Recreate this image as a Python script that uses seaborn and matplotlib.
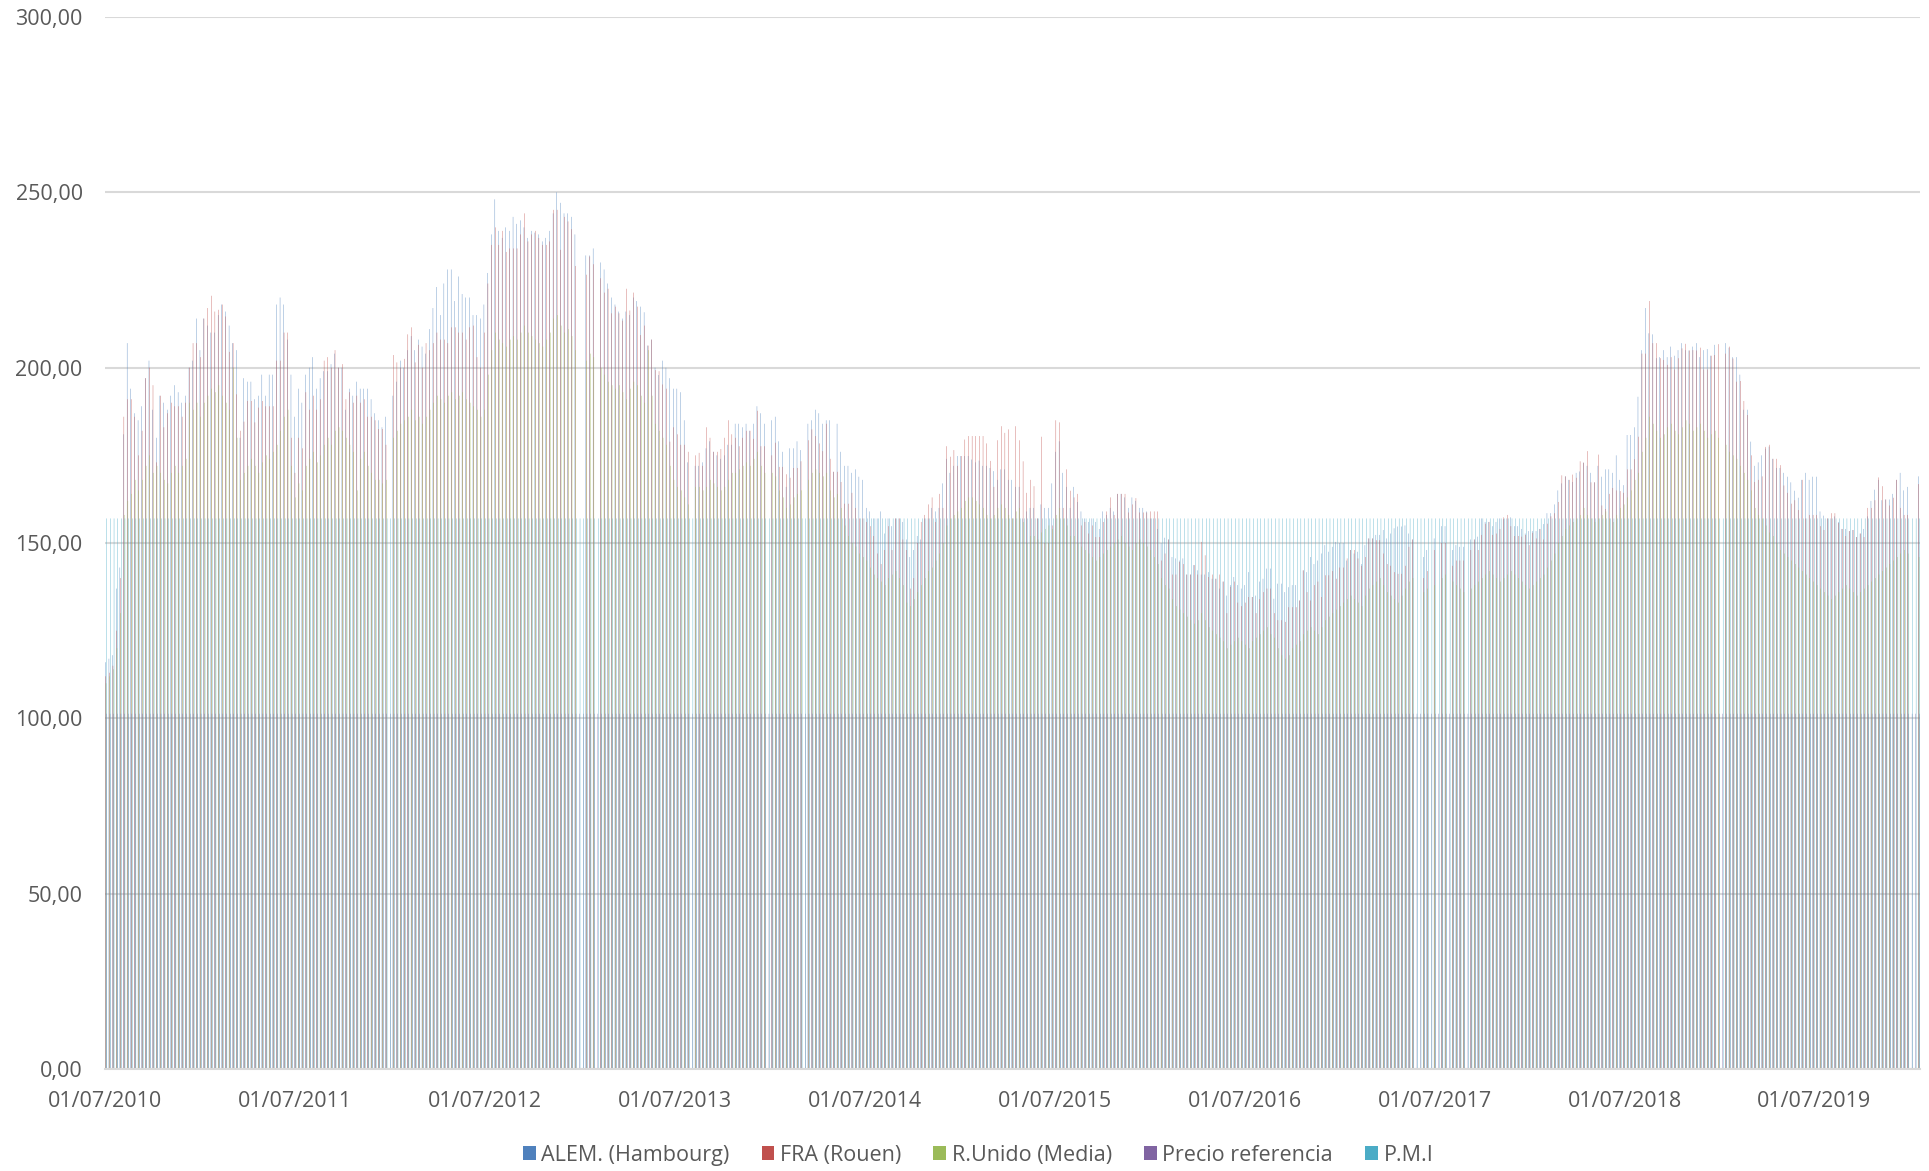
import numpy as np
import pandas as pd
import seaborn as sns
import matplotlib
matplotlib.use("Agg")
import matplotlib.pyplot as plt
from matplotlib.ticker import FuncFormatter

nan = float("nan")

# Weekly prices (EUR/t), one value per week starting 01/07/2010.
alem = [
    116, 117, 118, 137, 143, 181, 207, 194, 187, 185,
    189, 197, 202, 188, 180, 192, 190, 188, 192, 195,
    193, 190, 192, 200, 202, 214, 205, 214, 212, 210,
    210, 215, 218, 216, 212, 207, 205, 180, 197, 196,
    196, 191, 192, 198, 192, 198, 198, 218, 220, 218,
    208, 198, 186, 194, 190, 198, 200, 203, 194, 197,
    199, 199, 201, 204, 200, 200, 188, 194, 192, 196,
    194, 194, 194, 191, 187, 185, 183, 186, nan, 192,
    196, 202, 200, 205, 209, 205, 208, 206, 204, 211,
    217, 223, 215, 224, 228, 228, 219, 226, 221, 220,
    220, 215, 215, 214, 218, 227, 238, 248, 239, 237,
    240, 239, 243, 241, 242, 240, 237, 239, 238.5, 238,
    236, 237, 239, 244, 250, 247, 244, 244, 243, 238,
    nan, nan, 232, 232, 234, nan, 230, 228, 224, 220,
    218, 216, 214, 216, 215, 220, 219, 217.4, 215.8, 206.3,
    208, 200, 197.9, 202, 200, 197, 194, 194, 193, 185,
    173, nan, 172, 172, 173, 177, 179, 176, 175, 174,
    175, 178, 178, 184, 184, 183, 184, 182, 184, 189,
    187, 184, nan, 185, 186, 179, 176, 166, 177, 177,
    179, 176.5, nan, 184, 185, 188, 187, 184, 185, 185,
    170.3, 184, 176, 172, 172, 170, 171, 168.9, 168, 160,
    159, 157, 157, 159, 152.7, 157, 154.8, 157, 157, 156,
    151, 146, 148, 152, 151, 157, 157, 160, 159, 160,
    167, 174, 170, 172, 174.8, 174.8, 174.8, 174.8, 173.8, 173,
    173.5, 172, 172, 171.4, 170.5, 168, 171, 171, 168, 168,
    166, 166, 157, 159, 160, 160, 157, 161, 160, 160,
    167, 176, 179, 170, 166, 160, 166, 161.7, 159, 157,
    156, 157, 156, 154, 159, 158, 160, 159, 164, 164,
    163, 160, 163, 162, 160, 160, 159, 157, 157, 154,
    150, 151.5, 151, 146, 145.6, 145, 145.6, 141, 141, 143.7,
    142.2, 141, 141, 141.7, 139.8, 139.8, 137, 139, 135, 138,
    140.3, 138, 137, 138, 141.7, 134.6, 135, 139, 139.8, 142.7,
    142.7, 134.1, 138.4, 138.4, 136, 137.4, 138, 138, 133.6, 142.2,
    141.7, 146, 144, 145, 147, 149.4, 147.5, 148.9, 150.3, 150,
    150, 145, 148, 147, 147.5, 144, 149.4, 151.3, 151.3, 152.3,
    152.3, 153.7, 151.3, 152.7, 154.2, 154.7, 154.7, 155, 152.7, 151,
    nan, nan, 146, 148, nan, 151.3, nan, 154.8, 154.8, nan,
    148, 149.4, 148.9, 148.9, nan, 151, 151, 151.8, 157, 156,
    156, 154.8, 156, 157, 156.8, 157, 157.3, 154.8, 154.8, 154,
    152.7, 153.4, 153.4, 153.4, 154, 155.4, 158.5, 158.5, 161, 165,
    167, 169, 168, 167.4, 170, 170.4, 172.9, 172, 170, 167.3,
    172, 168.9, 171, 171, 170, 175, 168, 166.5, 180.8, 180.8,
    183, 191.7, 205, 217, 209.8, 209.5, 202.7, 203, 205, 203,
    206, 203.4, 205, 207, 205, 204.9, 206, 207, 203, 205,
    205.3, 203.4, 206.5, nan, nan, 207, 205.7, 203, 203, 198,
    188, 188, 178.9, 172, 173, 175, 176.9, 177.5, 174, 171.4,
    171.4, 170, 168.9, 167.3, 164.9, 162.9, 168, 170, 168, 168.9,
    168.9, 159, 157.8, 157, 157, 157.6, 156, 154, 154, 153.4,
    153.7, 151.7, 152.7, 154, 157.6, 162, 165.2, 168, 162.2, 162.4,
    162.4, 164, 168, 170, 165, 166, nan, nan, 169,
]

fra = [
    112, 113, 115, 125, 140, 186, 191, 191, 186, 175,
    182, 197, 200, 195, 173, 192, 183, 187, 190, 189,
    189, 186, 190, 200, 207, 207, 203, 214, 217, 220.5,
    216, 216.5, 218, 214.6, 204.5, 207, 192.4, 182, 184.6, 190.5,
    190.5, 184.4, 188.6, 190.5, 189, 189, 189, 202, 202, 210,
    210, 180, 170, 180, 177, 193, 188, 192, 188, 191,
    202, 203, 200, 205, 200, 201, 191, 193, 190, 192,
    190, 191, 186, 186, 185, 182.5, 182.5, 178, nan, 203.6,
    201.5, 200, 202.5, 209.5, 211.5, 201.5, 206.5, 200, 207, 205,
    207, 210, 208, 208, 207, 211.5, 211.5, 210, 210, 208,
    211.5, 212, 203, 200, 210, 224, 235, 240, 235, 239,
    233, 234, 234, 234, 238, 244, 236, 238, 239, 237,
    235, 235, 236, 245, 245, 233.6, 243, 241.7, 239.5, 229,
    nan, nan, 226.5, 231.7, 229.5, nan, 225.5, 221.4, 222.5, 215.5,
    217.4, 215.5, 213.4, 222.5, 216.3, 221.4, 217.4, 209.3, 212, 206.3,
    208, 199.3, 199, 195.2, 194, 178.9, 183, 181, 178, 178,
    176, nan, 175, 175.7, 172, 183, 180, 176, 176, 176.8,
    180, 185, 181, 180, 177.6, 180, 182, 182, 179.7, 187.7,
    177.6, 177.6, nan, 175, 178.6, 171.7, 171.7, 169.6, 168.6, 171.4,
    171.4, 173.3, nan, 179.3, 182.4, 180.5, 178.4, 176.2, 184, 174,
    170.3, 170.3, 167.4, 161.2, 161.2, 164.3, 160, 157, 157, 156,
    154.8, 152, 147, 144, 148, 154.8, 148, 157, 157, 151,
    148, 137, 140, 150, 156, 158, 161, 163, 156, 164,
    160, 177.6, 174.6, 176.5, 172, 174.8, 179.5, 180.5, 180.5, 180.5,
    180.5, 180.5, 178.4, 173.4, 166, 179.3, 183.3, 181.4, 182.4, 157,
    183.3, 179.3, 173.3, 164.3, 168, 166.2, 157, 180.3, 150, 150,
    155, 185, 184.4, 160, 171, 164.9, 163, 164, 155, 156,
    152.7, 155, 151.7, 151.7, 156, 159, 163, 158, 164, 164,
    164, 158.7, 161, 162.8, 158.7, 158.7, 158.7, 159, 159, 159,
    145, 147, 151, 141, 141, 144.6, 144, 141, 141, 143.7,
    141, 150.3, 146.5, 140.3, 141, 139.8, 141, 139, 130, 137.5,
    139, 133, 132, 133, 134.6, 134.6, 130, 134, 136, 137,
    137, 130, 128, 128, 127.5, 131.7, 131.7, 131.7, 133.6, 142.2,
    136, 133.6, 138, 139, 134.6, 140.8, 140.8, 142, 139.8, 143,
    143, 145.6, 148, 148, 145.6, 143.5, 146, 151.3, 151.3, 150.8,
    150.8, 147, 144, 143.5, 141.7, 141.2, 141.2, 143.5, 148.9, 151,
    nan, nan, 140, 142, nan, 148, nan, 150, 150, nan,
    143.5, 145, 145, 145, nan, 148, 151, 148, 152.3, 155.5,
    156, 152.3, 152.7, 154, 157.3, 158, 154.8, 152, 152, 151.8,
    152.3, 149.4, 152.9, 151.3, 154, 151, 155.5, 157.6, 158.5, 161.7,
    169.3, 169, 168, 169.5, 168.6, 173.3, 172.9, 176.2, 167.3, 167.3,
    175.2, 160.7, 159.7, 164, 165.7, 165, 164.8, 164.3, 171, 171,
    173.9, 180.3, 204, 204, 219, 207, 207, 202.7, 202.2, 200.8,
    203, 199.5, 202.7, 205.5, 206.8, 204.9, 205, 204.9, 205.7, 199.5,
    199.5, 203.4, 203.6, 206.7, nan, 204, 206, 202.6, 196, 196.2,
    190.5, 186.5, 175, 167.4, 168, 169, 177.4, 178, 174, 174,
    172.2, 166.4, 164.3, 161.2, 162.2, 159.4, 168, 157, 158, 158,
    158, 154.8, 153.7, 157, 158.5, 158.5, 155.7, 154, 152, 153.4,
    153.7, 151.7, 152.7, 151.7, 160, 160, 162.2, 168.7, 166.2, 162.4,
    160.7, 162.9, 168, 160, 158, 158, nan, nan, 166.8,
]

reino_unido = [
    110, 112, 114, 120, 130, 158, 162, 164, 168, 165,
    168, 172, 175, 170, 172, 170, 168, 167, 170, 172,
    170, 172, 174, 190, 188, 190, 186, 190, 192, 194,
    193, 195, 192, 190, 188, 200, 180, 168, 170, 172,
    174, 172, 170, 173, 175, 174, 176, 178, 182, 186,
    188, 172, 163, 167, 165, 172, 174, 176, 173, 175,
    178, 180, 178, 182, 183, 182, 180, 178, 176, 165,
    174, 176, 172, 170, 168, 168, 167, 168, nan, 180,
    182, 184, 185, 186, 188, 185, 186, 184, 186, 188,
    190, 192, 191, 190, 192, 193, 191, 192, 193, 191,
    190, 189, 188, 186, 188, 198, 205, 210, 208, 207,
    206, 208, 209, 208, 210, 212, 210, 209, 208, 207,
    206, 208, 210, 214, 215, 212, 210, 211, 209, 205,
    nan, nan, 202, 204, 203, nan, 200, 198, 196, 195,
    194, 195, 193, 191, 194, 196, 195, 192, 190, 205,
    192, 184, 182, 180, 178, 172, 168, 166, 165, 163,
    161, nan, 166, 166, 165, 166, 168, 167, 166, 165,
    166, 168, 170, 170, 171, 172, 173, 172, 174, 176,
    172, 170, nan, 170, 169, 165, 163, 160, 161, 163,
    164, 165, nan, 168, 170, 171, 170, 169, 170, 165,
    163, 164, 160, 155, 152, 150, 149, 147, 146, 145,
    143, 141, 140, 139, 138, 140, 141, 142, 140, 138,
    133, 132, 134, 136, 138, 140, 142, 143, 145, 147,
    150, 155, 157, 158, 159, 160, 162, 163, 163, 162,
    161, 160, 158, 157, 158, 160, 161, 160, 158, 157,
    159, 160, 156, 150, 152, 152, 151, 153, 154, 155,
    154, 158, 160, 157, 155, 152, 152, 150, 149, 148,
    147, 146, 145, 146, 147, 148, 149, 150, 151, 152,
    150, 149, 148, 150, 151, 150, 149, 148, 146, 144,
    140, 138, 137, 134, 132, 131, 130, 129, 128, 127,
    128, 130, 128, 126, 125, 124, 123, 122, 120, 121,
    122, 123, 122, 121, 120, 122, 123, 124, 125, 126,
    124, 123, 120, 118, 117, 118, 120, 121, 122, 124,
    125, 126, 125, 124, 126, 128, 129, 130, 131, 132,
    133, 134, 135, 134, 133, 132, 135, 137, 138, 139,
    140, 138, 136, 135, 134, 133, 135, 137, 139, 140,
    nan, nan, 136, 137, nan, 138, nan, 140, 141, nan,
    139, 138, 137, 136, nan, 137, 138, 139, 140, 141,
    142, 141, 140, 139, 140, 141, 142, 141, 140, 139,
    138, 137, 138, 139, 140, 141, 143, 145, 147, 150,
    152, 154, 155, 156, 157, 158, 160, 158, 157, 156,
    157, 158, 159, 157, 156, 158, 160, 161, 163, 165,
    168, 170, 176, 180, 186, 184, 182, 180, 181, 183,
    184, 182, 181, 183, 185, 184, 182, 183, 184, 182,
    180, 181, 182, 180, nan, 178, 176, 175, 174, 172,
    170, 168, 165, 160, 158, 157, 155, 153, 152, 150,
    148, 147, 146, 145, 144, 143, 142, 141, 140, 139,
    138, 137, 136, 135, 134, 135, 136, 137, 138, 137,
    136, 135, 136, 137, 138, 139, 140, 141, 142, 143,
    144, 145, 146, 147, 148, 147, nan, nan, 146,
]

precio_referencia = 101.31   # constant over the whole period
pmi = 157.0                  # constant over the whole period

series = ["ALEM. (Hambourg)", "FRA (Rouen)", "R.Unido (Media)", "Precio referencia", "P.M.I"]
colores = ["#4F81BD", "#C0504D", "#9BBB59", "#8064A2", "#4BACC6"]
tick_fechas = ["01/07/2010", "01/07/2011", "01/07/2012", "01/07/2013", "01/07/2014",
               "01/07/2015", "01/07/2016", "01/07/2017", "01/07/2018", "01/07/2019"]

n = len(alem)
assert len(fra) == n and len(reino_unido) == n
fechas = pd.date_range("2010-07-01", periods=n, freq="7D")

tabla = pd.DataFrame({
    "fecha": fechas,
    "pos": np.arange(n),
    series[0]: alem,
    series[1]: fra,
    series[2]: reino_unido,
    series[3]: [precio_referencia] * n,
    series[4]: [pmi] * n,
})
largo = tabla.melt(id_vars=["fecha", "pos"], value_vars=series,
                   var_name="serie", value_name="valor").dropna()

sns.set_theme(style="white")
plt.rcParams["font.family"] = ["Open Sans", "DejaVu Sans"]

fig = plt.figure(figsize=(19.29, 11.71), dpi=100)
ax = fig.add_axes([0.0544, 0.0871, 0.9409, 0.8984])

sns.barplot(data=largo, x="pos", y="valor", hue="serie", hue_order=series,
            palette=colores, width=0.5, errorbar=None, linewidth=0,
            saturation=1, ax=ax, legend=True)

# thin bars: no pixel snapping so that they blend like in the original
for p in ax.patches:
    p.set_snap(False)
    p.set_antialiased(True)

ax.set_ylim(0, 300)
ax.set_yticks(np.arange(0, 301, 50))
ax.yaxis.set_major_formatter(FuncFormatter(lambda v, p: f"{v:.2f}".replace(".", ",")))
ax.set_xlim(-0.25, n - 0.75)

inicio = fechas[0]
pos_ticks = [(pd.to_datetime(t, dayfirst=True) - inicio).days / 7 - 0.3 for t in tick_fechas]
ax.set_xticks(pos_ticks)
ax.set_xticklabels(tick_fechas)

ax.grid(axis="y", color="#d9d9d9", linewidth=1.5)
ax.grid(axis="x", visible=False)
ax.set_axisbelow(True)
for s in ["top", "right", "left"]:
    ax.spines[s].set_visible(False)
ax.spines["bottom"].set_color("#d9d9d9")
ax.spines["bottom"].set_linewidth(1.5)
ax.tick_params(axis="x", colors="#595959", labelsize=15.5, length=6, width=1.5,
               direction="out", pad=10)
ax.tick_params(axis="x", color="#d9d9d9")
ax.tick_params(axis="y", colors="#595959", labelsize=15.5, length=0, pad=16)
ax.set_xlabel("")
ax.set_ylabel("")

handles, labels = ax.get_legend_handles_labels()
ax.get_legend().remove()
fig.legend(handles, labels, loc="center", bbox_to_anchor=(0.507, 0.0135), ncol=5,
           frameon=False, fontsize=15.5, handlelength=0.6, handleheight=0.6,
           handletextpad=0.25, columnspacing=1.5, labelcolor="#595959")

fig.savefig("out.png", dpi=100)
